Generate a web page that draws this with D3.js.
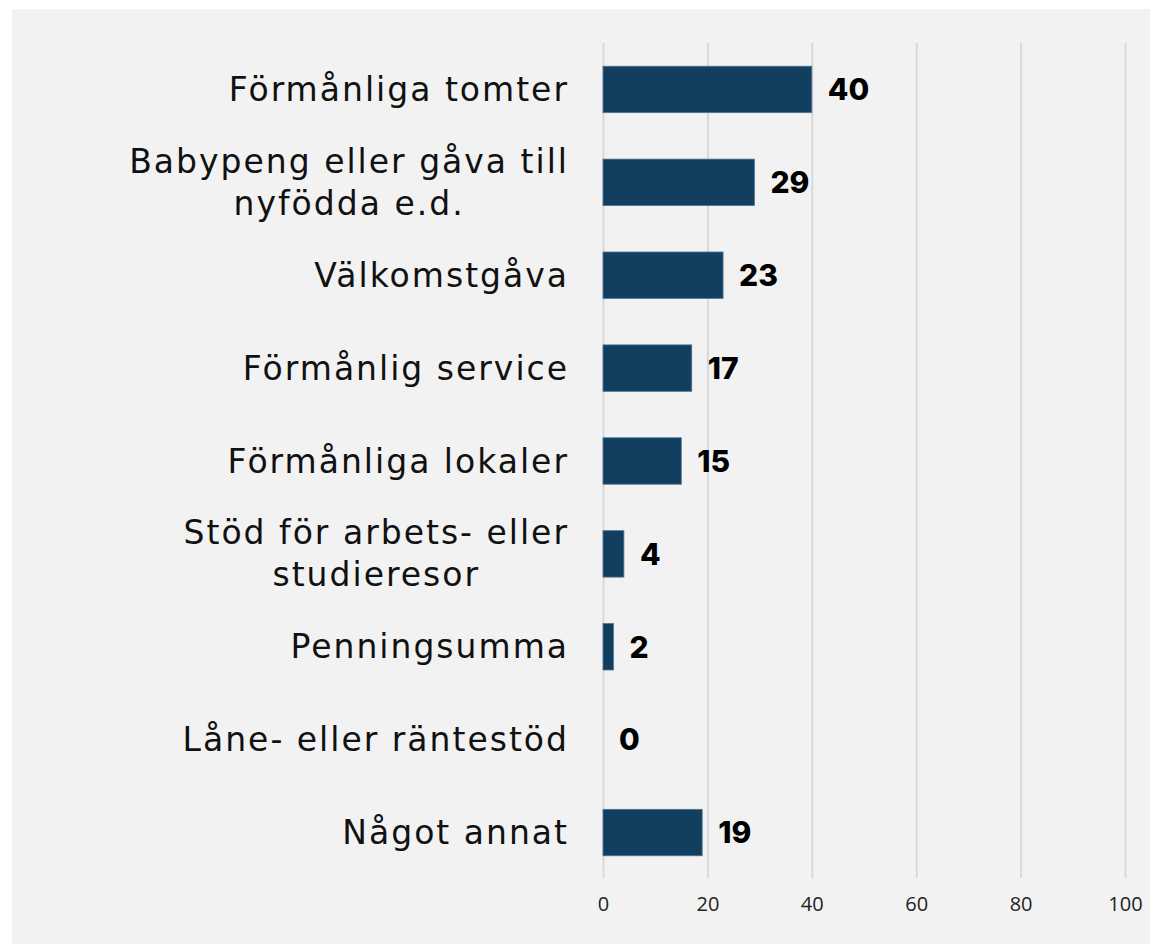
<!DOCTYPE html>
<html>
<head>
<meta charset="utf-8">
<script src="https://cdn.jsdelivr.net/npm/d3@7"></script>
<style>
  html, body { margin: 0; padding: 0; background: #fff; }
</style>
</head>
<body>
<div id="chart"></div>
<script>
// data
const categories = [
  "Förmånliga tomter",
  "Babypeng eller gåva till|nyfödda e.d.",
  "Välkomstgåva",
  "Förmånlig service",
  "Förmånliga lokaler",
  "Stöd för arbets- eller|studieresor",
  "Penningsumma",
  "Låne- eller räntestöd",
  "Något annat"
];
const values = [40, 29, 23, 17, 15, 4, 2, 0, 19];
const xTicks = [0, 20, 40, 60, 80, 100];

const W = 1150, H = 944;
const svg = d3.select("#chart").append("svg").attr("width", W).attr("height", H);

svg.append("rect").attr("x", 12).attr("y", 9).attr("width", W - 12).attr("height", H - 9)
  .attr("fill", "#f2f2f2");

const x = d3.scaleLinear().domain([0, 100]).range([603, 1125]);
const y = d3.scaleBand().domain(categories).range([43, 879]).paddingInner(0.5).paddingOuter(0.25);

// gridlines
svg.append("g").attr("transform", "translate(0,878)")
  .call(d3.axisBottom(x).tickValues(xTicks).tickSize(-835).tickFormat(""))
  .call(g => g.select(".domain").remove())
  .call(g => g.selectAll("line").attr("stroke", "#d9d9d9").attr("stroke-width", 2));

// tick labels
svg.append("g").attr("transform", "translate(0,878)")
  .call(d3.axisBottom(x).tickValues(xTicks).tickSize(0).tickPadding(19))
  .call(g => g.select(".domain").remove())
  .call(g => g.selectAll("text").attr("font-family", "'Open Sans', sans-serif")
    .attr("font-size", 20).attr("fill", "#222"));

// bars
svg.append("g").selectAll("rect").data(values).join("rect")
  .attr("x", x(0))
  .attr("y", (d, i) => y(categories[i]))
  .attr("width", d => x(d) - x(0))
  .attr("height", y.bandwidth())
  .attr("fill", "#123f5f")
  .attr("stroke", d => d > 0 ? "#4f7593" : "none")
  .attr("stroke-width", 0.8);

// value labels
svg.append("g").selectAll("text").data(values).join("text")
  .attr("x", d => x(d) + 16)
  .attr("y", (d, i) => y(categories[i]) + y.bandwidth() / 2)
  .attr("dy", "0.36em")
  .attr("font-family", "Inter, sans-serif")
  .attr("font-weight", 800)
  .attr("font-size", 30)
  .attr("fill", "#000")
  .text(d => d);

// category labels
const labels = svg.append("g").selectAll("text").data(categories).join("text")
  .attr("text-anchor", "middle")
  .attr("font-family", "'DejaVu Sans', sans-serif")
  .attr("font-size", 33)
  .attr("letter-spacing", 2)
  .attr("fill", "#111")
  .attr("transform", (d, i) => `translate(0,${y(d) + y.bandwidth() / 2})`);

labels.each(function(d) {
  const lines = d.split("|");
  const t = d3.select(this);
  lines.forEach((l, j) => {
    t.append("tspan").attr("x", 0)
      .attr("y", (j - (lines.length - 1) / 2) * 42)
      .attr("dy", "0.35em").text(l);
  });
  // right-align block at x=567 while keeping lines centred among themselves
  const w = this.getBBox().width;
  t.selectAll("tspan").attr("x", 569 - w / 2);
});
</script>
</body>
</html>
